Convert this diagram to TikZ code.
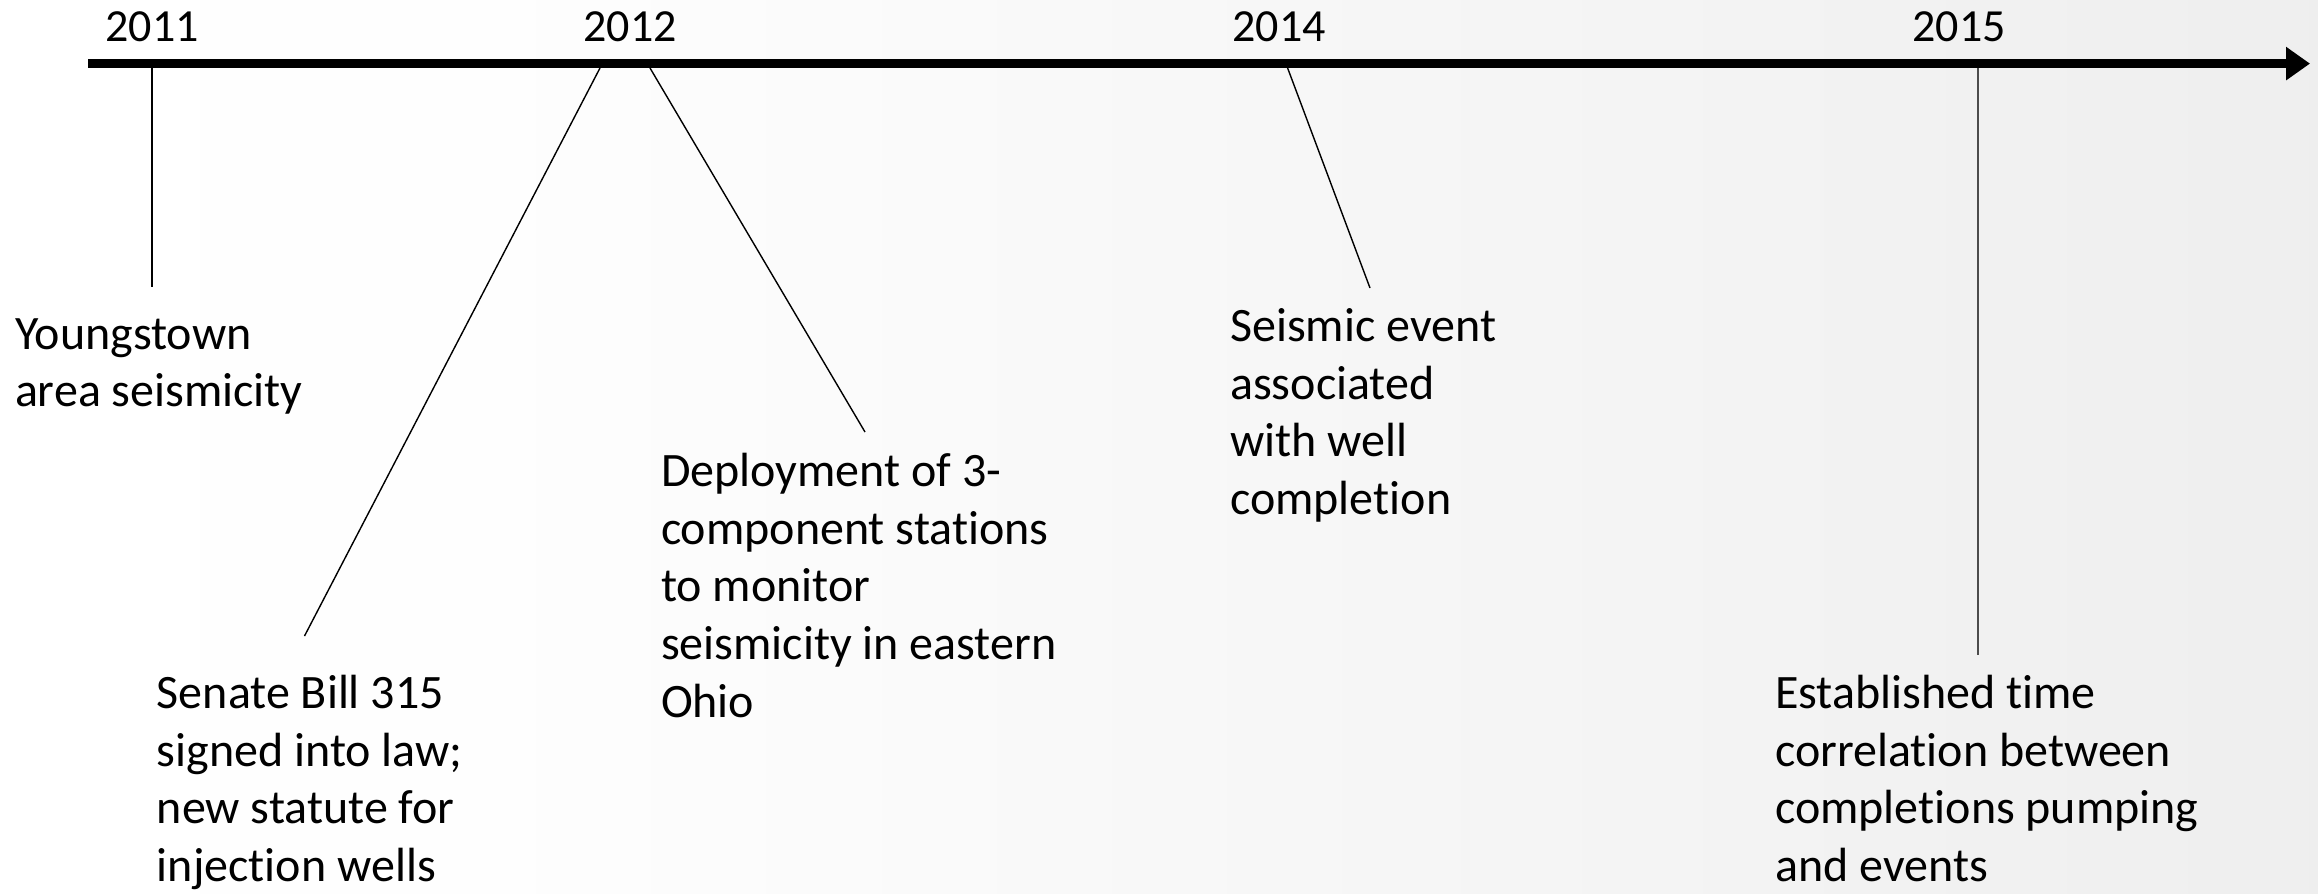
\documentclass[tikz,border=0pt]{standalone}
\usepackage{fontspec}
\setmainfont{Carlito}[Ligatures=NoCommon]
\usetikzlibrary{arrows.meta}
\pgfdeclarehorizontalshading{bgshade}{100bp}{rgb(0bp)=(1,1,1); rgb(25bp)=(1,1,1); rgb(36bp)=(0.995,0.995,0.995); rgb(55bp)=(0.965,0.965,0.965); rgb(75bp)=(0.935,0.935,0.935); rgb(100bp)=(0.935,0.935,0.935)}
\tikzset{
  txt/.style={anchor=north west, align=left, inner sep=0pt, font=\fontsize{48}{57.7}\selectfont},
  yr/.style={anchor=base, inner sep=0pt, font=\fontsize{46}{50}\selectfont},
  leader/.style={line width=1.4pt, draw=black},
  axisline/.style={line width=9pt, -{Triangle[length=24pt,width=32pt]}}
}
\begin{document}
\begin{tikzpicture}[x=1pt,y=-1pt]
\useasboundingbox (0,0) rectangle (2318,894);
\shade[shading=bgshade] (0,0) rectangle (2318,894);
% axis
\coordinate (axs) at (88,63.6);
\coordinate (axe) at (2310,63.6);
\draw[axisline] (axs) -- (axe);
% years
\node[yr] (y2011) at (152,41) {2011};
\node[yr] (y2012) at (630,41) {2012};
\node[yr] (y2014) at (1279,41) {2014};
\node[yr] (y2015) at (1959,41) {2015};
% tick starts
\coordinate (t2011) at (152,68);
\coordinate (t2012a) at (600,68);
\coordinate (t2012b) at (650,68);
\coordinate (t2014) at (1287.6,68);
\coordinate (t2015) at (1978,68);
% leader ends
\coordinate (e2011) at (152,287);
\coordinate (e2012a) at (304.5,636);
\coordinate (e2012b) at (865,432);
\coordinate (e2014) at (1370,288);
\coordinate (e2015) at (1978,655);
\draw[leader] (t2011) -- (e2011);
\draw[leader] (t2012a) -- (e2012a);
\draw[leader] (t2012b) -- (e2012b);
\draw[leader] (t2014) -- (e2014);
\draw[leader, draw=black!70] (t2015) -- (e2015);
% texts
\node[txt] (youngs) at (14.8,308.6) {\strut Youngstown\\area seismicity};
\node[txt] (senate) at (156.7,667.8) {\strut Senate Bill 315\\signed into law;\\new statute for\\injection wells};
\node[txt] (deploy) at (660.8,446) {\strut Deployment of 3-\\component stations\\to monitor\\seismicity in eastern\\Ohio};
\node[txt] (seismic) at (1230,301) {\strut Seismic event\\associated\\with well\\completion};
\node[txt] (estab) at (1775,667.8) {\strut Established time\\correlation between\\completions pumping\\and events};
\end{tikzpicture}
\end{document}
